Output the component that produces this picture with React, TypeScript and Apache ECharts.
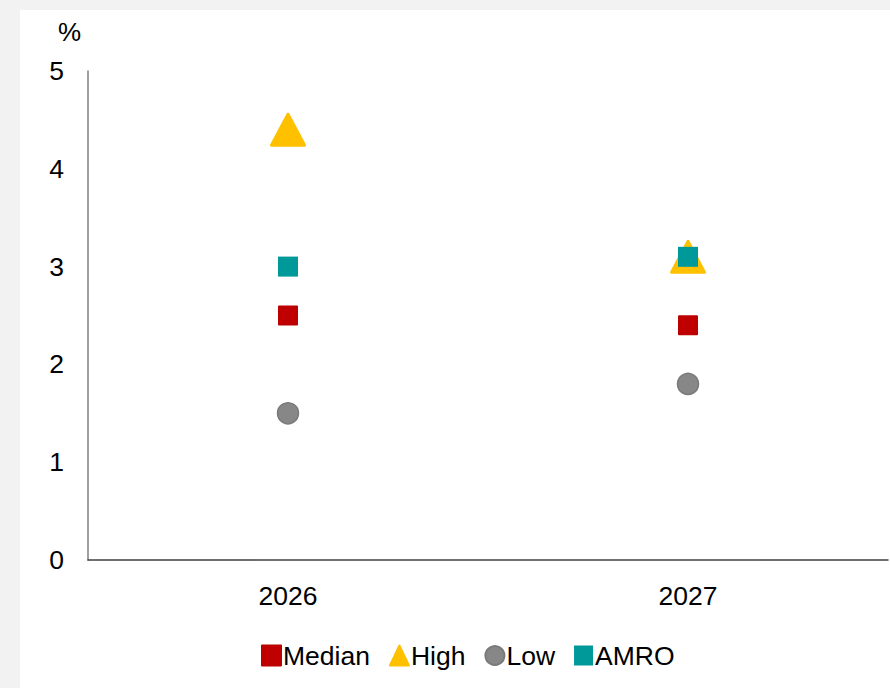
import React, { useEffect, useRef } from "react";
import * as echarts from "echarts";

const categories = ["2026", "2027"];
const medianValues = [2.5, 2.4];
const highValues = [4.4, 3.1];
const lowValues = [1.5, 1.8];
const amroValues = [3.0, 3.1];
const yTicks = [0, 1, 2, 3, 4, 5];

const FONT = "'Liberation Sans', Arial, sans-serif";

export default function App() {
  const ref = useRef<HTMLDivElement>(null);

  useEffect(() => {
    document.body.style.margin = "0";
    const chart = echarts.init(ref.current!, null, { renderer: "svg" });
    chart.setOption({
      animation: false,
      backgroundColor: "#ffffff",
      textStyle: { fontFamily: FONT },
      grid: { left: 68, right: 2, top: 61, bottom: 128, containLabel: false },
      graphic: [
        {
          type: "text",
          left: 38,
          top: 9,
          style: { text: "%", font: `26px ${FONT}`, fill: "#000000" },
        },
      ],
      legend: {
        bottom: 14,
        left: 236,
        itemWidth: 19,
        itemHeight: 20,
        itemGap: 19,
        textStyle: { fontSize: 26.5, color: "#000000", fontFamily: FONT, padding: [0, 0, 0, -3] },
        data: ["Median", "High", "Low", "AMRO"],
      },
      xAxis: {
        type: "category",
        data: categories,
        boundaryGap: true,
        axisLine: { lineStyle: { color: "#404040", width: 1.5 } },
        axisTick: { show: false },
        axisLabel: { fontSize: 26.5, color: "#000000", fontFamily: FONT, margin: 22 },
        splitLine: { show: false },
      },
      yAxis: {
        type: "value",
        min: yTicks[0],
        max: yTicks[yTicks.length - 1],
        interval: 1,
        axisLine: { show: true, lineStyle: { color: "#808080", width: 1.5 } },
        axisTick: { show: false },
        axisLabel: { fontSize: 26.5, color: "#000000", fontFamily: FONT, margin: 24 },
        splitLine: { show: false },
      },
      series: [
        {
          name: "Median",
          type: "scatter",
          data: medianValues,
          symbol: "rect",
          symbolSize: 18,
          itemStyle: { color: "#C00000", borderColor: "#BA0000", borderWidth: 2, borderJoin: "round", opacity: 1 },
          z: 3,
        },
        {
          name: "High",
          type: "scatter",
          data: highValues,
          symbol: "triangle",
          symbolSize: [33, 31],
          itemStyle: { color: "#FFC000", borderColor: "#FFC000", borderWidth: 3, borderJoin: "round", opacity: 1 },
          z: 2,
        },
        {
          name: "Low",
          type: "scatter",
          data: lowValues,
          symbol: "circle",
          symbolSize: 21,
          itemStyle: { color: "#878787", borderColor: "#7a7a7a", borderWidth: 1.5, opacity: 1 },
          z: 3,
        },
        {
          name: "AMRO",
          type: "scatter",
          data: amroValues,
          symbol: "rect",
          symbolSize: 20,
          itemStyle: { color: "#009999", opacity: 1 },
          z: 4,
        },
      ],
    });
    return () => chart.dispose();
  }, []);

  return (
    <div style={{ position: "fixed", left: 0, top: 0, width: 890, height: 688, background: "#f2f2f2" }}>
      <div ref={ref} style={{ position: "absolute", left: 20, top: 10, width: 870, height: 678 }} />
    </div>
  );
}
